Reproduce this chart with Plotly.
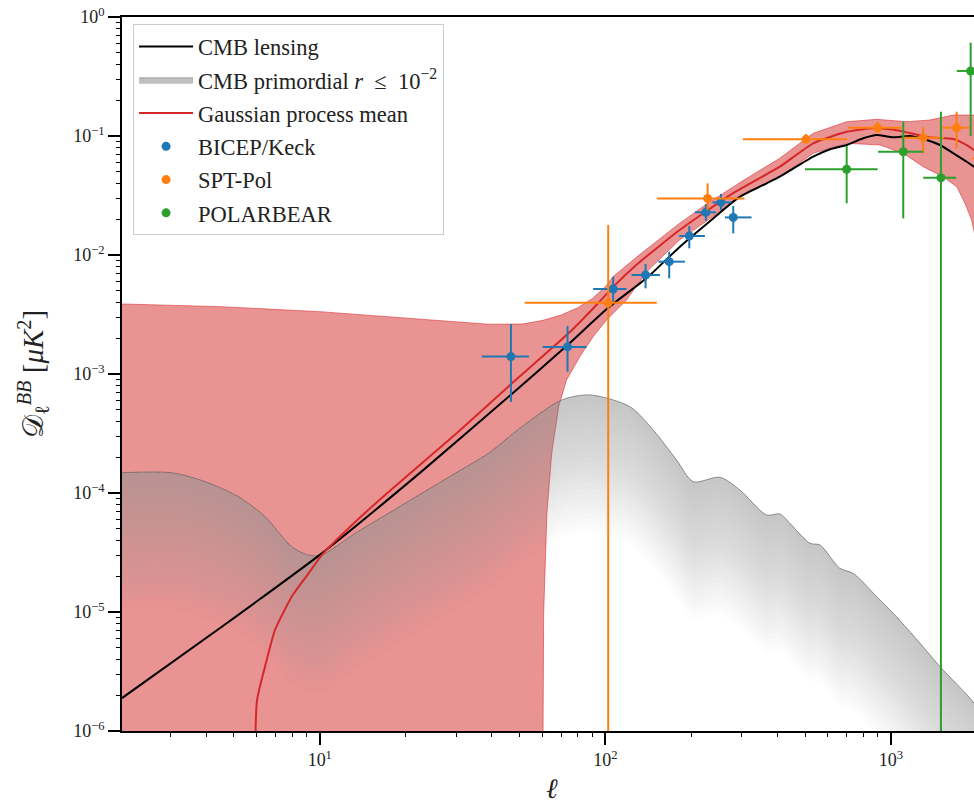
import numpy as np
import plotly.graph_objects as go

# ---------------- data ----------------
# CMB lensing B-mode spectrum
ell_lens = [2.03, 4.54, 10.16, 22.75, 46.7, 73.7, 102.3, 139.5, 182.4, 238.5, 295.8,
            366.9, 408, 534, 612, 700, 800, 891, 1019, 1166, 1334, 1485, 1653, 1841, 1953, 2100]
dl_lens = [1.89e-6, 7.52e-6, 3.11e-5, 1.52e-4, 6.7e-4, 1.75e-3, 3.6e-3, 6.4e-3, 1.175e-2,
           2.03e-2, 3.09e-2, 4.0e-2, 4.55e-2, 6.70e-2, 7.73e-2, 8.40e-2, 9.57e-2, 0.1019, 0.0975,
           0.100, 0.0926, 0.0840, 0.0716, 0.0608, 0.0552, 0.048]

# CMB primordial (r = 1e-2)
ell_prim = [2.03, 3.03, 3.97, 5.19, 6.43, 7.98, 9.13, 10.16, 13.3, 17.4, 22.75, 29.8, 39.0, 51.0,
            70.4, 88.3, 121.8, 147.1, 177.6, 203.0, 251.8, 295.8, 366.9, 408, 442.6, 520, 564,
            662, 738, 890, 1019, 1264, 1485, 1953, 2100]
dl_prim = [1.48e-4, 1.48e-4, 1.245e-4, 9.31e-5, 6.33e-5, 3.54e-5, 3.01e-5, 3.01e-5, 4.58e-5,
           6.75e-5, 9.94e-5, 1.465e-4, 2.16e-4, 3.61e-4, 6.05e-4, 6.67e-4, 5.31e-4, 3.38e-4,
           1.89e-4, 1.245e-4, 1.355e-4, 1.06e-4, 6.53e-5, 6.67e-5, 5.56e-5, 3.78e-5, 3.66e-5,
           2.33e-5, 2.11e-5, 1.35e-5, 9.75e-6, 5.46e-6, 3.47e-6, 1.71e-6, 1.2e-6]

# Gaussian process mean
ell_gp = [5.95, 6.02, 6.43, 6.97, 7.98, 9.13, 10.16, 13.3, 17.4, 29.8, 46.7, 75.1, 93, 106.5,
          130, 182, 273, 338, 408, 534, 700, 867, 1045, 1367, 1653, 1841, 1953, 2100]
dl_gp = [1e-9, 1.76e-6, 3.47e-6, 7.06e-6, 1.35e-5, 2.11e-5, 3.01e-5, 5.7e-5, 1.02e-4, 3.1e-4,
         8.2e-4, 2.25e-3, 3.8e-3, 5.4e-3, 8.47e-3, 1.62e-2, 3.19e-2, 4.27e-2, 5.52e-2, 0.0868,
         0.1087, 0.116, 0.112, 0.0975, 0.0944, 0.084, 0.0763, 0.065]

# Gaussian process band edges
ell_up = [2, 4.5, 10, 22.7, 39, 51, 60, 70, 80, 90, 100, 106.5, 130, 182, 230, 300, 408, 534,
          700, 891, 1139, 1367, 1653, 1953, 2100]
gp_upper = [3.88e-3, 3.68e-3, 3.34e-3, 2.88e-3, 2.62e-3, 2.63e-3, 2.81e-3, 3.13e-3, 3.6e-3,
            4.3e-3, 5.4e-3, 6.6e-3, 9.8e-3, 1.85e-2, 2.75e-2, 4.15e-2, 0.065, 0.1054, 0.1318,
            0.138, 0.1318, 0.1362, 0.150, 0.150, 0.150]
ell_lo = [2, 59.5, 60.5, 60.8, 62.4, 64.9, 68.6, 73.1, 81.4, 90.6, 100.9, 118.6, 140, 182, 230,
          300, 408, 534, 700, 916, 1104, 1297, 1522, 1700, 1816, 1917, 2000, 2100]
gp_lower = [1e-9, 1e-9, 1e-6, 9.75e-6, 6.75e-5, 2.16e-4, 5.31e-4, 8.9e-4, 1.40e-3, 2.06e-3,
            2.84e-3, 4.19e-3, 7.3e-3, 1.34e-2, 2.0e-2, 3.1e-2, 4.55e-2, 0.0716, 0.0868, 0.0840,
            0.0716, 0.0552, 0.0455, 0.0375, 0.0272, 0.0197, 0.012, 0.005]

# BICEP/Keck
bk_ell = [46.7, 73.7, 106.5, 138.3, 167.3, 196.7, 224.9, 253.9, 280.4]
bk_ell_lo = [36.9, 60.3, 90.6, 123.5, 153.3, 181.3, 205.9, 237.0, 262.2]
bk_ell_hi = [54.0, 85.9, 118.6, 155.2, 189.9, 223.1, 243.8, 276.7, 325.0]
bk_dl = [1.40e-3, 1.69e-3, 5.18e-3, 6.79e-3, 8.79e-3, 1.445e-2, 2.285e-2, 2.77e-2, 2.07e-2]
bk_dl_lo = [5.82e-4, 1.045e-3, 4.05e-3, 5.25e-3, 6.37e-3, 1.138e-2, 1.94e-2, 2.39e-2, 1.52e-2]
bk_dl_hi = [2.63e-3, 2.53e-3, 6.57e-3, 8.40e-3, 1.066e-2, 1.754e-2, 2.68e-2, 3.26e-2, 2.58e-2]

# SPT-Pol
spt_ell = [102.3, 228.0, 503.8, 897.6, 1297, 1698, 2150]
spt_ell_lo = [52.2, 151.4, 303, 708, 1090, 1514, 1920]
spt_ell_hi = [151.4, 307, 701, 1090, 1533, 1900, 2400]
spt_dl = [3.97e-3, 2.99e-2, 9.38e-2, 0.1174, 0.0968, 0.1174, 0.065]
spt_dl_lo = [-1.0e-2, 2.39e-2, 8.68e-2, 0.1054, 0.0716, 0.0788, 0.045]
spt_dl_hi = [1.79e-2, 4.00e-2, 0.104, 0.132, 0.1197, 0.160, 0.085]

# POLARBEAR
pb_ell = [699.6, 1104, 1496, 1901]
pb_ell_lo = [500, 900, 1297, 1700]
pb_ell_hi = [898, 1297, 1690, 2100]
pb_dl = [5.25e-2, 7.38e-2, 4.46e-2, 0.352]
pb_dl_lo = [2.72e-2, 2.03e-2, -7.0e-2, 0.10]
pb_dl_hi = [8.24e-2, 0.132, 0.160, 0.608]

x_tick_exps = [1, 2, 3]
y_tick_exps = [-6, -5, -4, -3, -2, -1, 0]

# ---------------- figure ----------------
FONT = "Liberation Serif"
RED = "#d62728"
fig = go.Figure()

# GP band
fig.add_trace(go.Scatter(
    x=ell_up + ell_lo[::-1], y=gp_upper + gp_lower[::-1], fill="toself",
    fillcolor="rgba(214,39,40,0.5)", line=dict(color="rgba(214,39,40,0.55)", width=1),
    mode="lines", showlegend=False, hoverinfo="skip"))

# primordial: stacked translucent layers -> gradient under the curve
prim = np.array(dl_prim)
N_LAYERS = 22
DEPTH = 1.15  # decades over which the shading fades
for i in range(1, N_LAYERS + 1):
    low = prim * 10 ** (-DEPTH * i / N_LAYERS)
    fig.add_trace(go.Scatter(
        x=ell_prim + ell_prim[::-1], y=list(prim) + list(low[::-1]), fill="toself",
        fillcolor="rgba(128,128,128,0.026)", line=dict(color="rgba(0,0,0,0)", width=0,
                                                        shape="spline", smoothing=0.8),
        mode="lines", showlegend=False, hoverinfo="skip"))
fig.add_trace(go.Scatter(x=ell_prim, y=dl_prim, mode="lines",
                         line=dict(color="rgba(110,110,110,0.75)", width=1, shape="spline",
                                   smoothing=0.8),
                         showlegend=False, hoverinfo="skip"))

# lensing
fig.add_trace(go.Scatter(x=ell_lens, y=dl_lens, mode="lines", name="CMB lensing",
                         line=dict(color="black", width=2, shape="spline", smoothing=0.6),
                         legendrank=1, legendgroup="a"))
# legend entry for primordial
fig.add_trace(go.Scatter(x=[None], y=[None], mode="lines", fill="toself",
                         fillcolor="rgba(128,128,128,0.5)",
                         line=dict(color="rgba(128,128,128,0.6)", width=1),
                         name="CMB primordial <i>r</i>\u2002≤\u200210<sup>−2</sup>", legendrank=2,
                         legendgroup="b"))
# GP mean
fig.add_trace(go.Scatter(x=ell_gp, y=dl_gp, mode="lines", name="Gaussian process mean",
                         line=dict(color=RED, width=2, shape="spline", smoothing=0.5),
                         legendrank=3, legendgroup="c"))


def add_err(name, ell, ell_lo, ell_hi, dl, dl_lo, dl_hi, color, rank, grp):
    ell = np.array(ell); dl = np.array(dl)
    fig.add_trace(go.Scatter(
        x=ell, y=dl, mode="markers", name=name, legendrank=rank, legendgroup=grp,
        marker=dict(size=9, color=color),
        error_x=dict(type="data", symmetric=False, array=np.array(ell_hi) - ell,
                     arrayminus=ell - np.array(ell_lo), color=color, thickness=2, width=0),
        error_y=dict(type="data", symmetric=False, array=np.array(dl_hi) - dl,
                     arrayminus=dl - np.array(dl_lo), color=color, thickness=2, width=0)))


add_err("BICEP/Keck", bk_ell, bk_ell_lo, bk_ell_hi, bk_dl, bk_dl_lo, bk_dl_hi, "#1f77b4", 4, "d")
add_err("SPT-Pol", spt_ell, spt_ell_lo, spt_ell_hi, spt_dl, spt_dl_lo, spt_dl_hi, "#ff7f0e", 5, "e")
add_err("POLARBEAR", pb_ell, pb_ell_lo, pb_ell_hi, pb_dl, pb_dl_lo, pb_dl_hi, "#2ca02c", 6, "f")

x_minor = [m * 10 ** e for e in range(0, 4) for m in range(2, 10)]
y_minor = [m * 10 ** e for e in range(-7, 0) for m in range(2, 10)]

axis_common = dict(type="log", showgrid=False, zeroline=False, showline=True,
                   linecolor="black", linewidth=1.5, ticks="outside", ticklen=12,
                   tickwidth=1.5, tickcolor="black",
                   tickfont=dict(family=FONT, size=18, color="#222"))

fig.update_xaxes(**axis_common, range=[np.log10(2.03), 3.2907], mirror=True,
                 tickmode="array", tickvals=[10 ** e for e in x_tick_exps],
                 ticktext=[f"10<sup>{e}</sup>" for e in x_tick_exps],
                 minor=dict(tickmode="array", tickvals=x_minor, ticks="outside", ticklen=4,
                            tickwidth=1, tickcolor="black", showgrid=False))
fig.update_yaxes(**axis_common, range=[-6, 0], mirror=False,
                 tickmode="array", tickvals=[10.0 ** e for e in y_tick_exps],
                 ticktext=[f"10<sup>{str(e).replace('-', '−')}</sup>" for e in y_tick_exps],
                 minor=dict(tickmode="array", tickvals=y_minor, ticks="outside", ticklen=4,
                            tickwidth=1, tickcolor="black", showgrid=False))

fig.update_layout(
    width=974, height=807, autosize=False,
    margin=dict(l=122, r=0, t=17, b=76),
    paper_bgcolor="white", plot_bgcolor="white",
    font=dict(family=FONT, color="#222"),
    showlegend=True,
    legend=dict(x=0.013, y=0.9895, xanchor="left", yanchor="top",
                bgcolor="rgba(255,255,255,0.85)", bordercolor="#cccccc", borderwidth=1,
                font=dict(family=FONT, size=22.5, color="#222"), itemwidth=54,
                tracegroupgap=1, traceorder="grouped"),
    annotations=[
        dict(text="𝒟<sub>ℓ</sub><sup><i>BB</i></sup> [<i>μK</i><sup>2</sup>]",
             xref="paper", yref="paper", x=(33 - 122) / 852, y=0.5, xanchor="center",
             yanchor="middle", textangle=-90, showarrow=False,
             font=dict(family=FONT, size=29, color="#222")),
        dict(text="<i>ℓ</i>", xref="paper", yref="paper", x=(552 - 122) / 852,
             y=(731 - 806) / 714, xanchor="center", yanchor="bottom", showarrow=False,
             font=dict(family=FONT, size=28, color="#222")),
    ],
)

fig.write_html("out.html")
